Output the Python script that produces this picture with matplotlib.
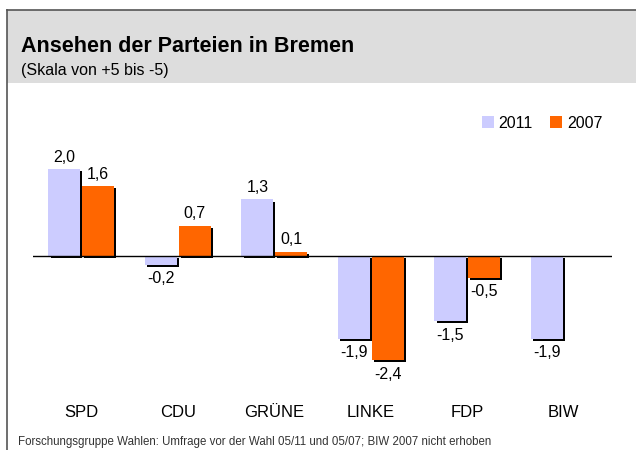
import numpy as np
import matplotlib
matplotlib.use("Agg")
import matplotlib.pyplot as plt
import matplotlib.patheffects as pe
from matplotlib.patches import Rectangle

parteien = ["SPD", "CDU", "GRÜNE", "LINKE", "FDP", "BIW"]
werte_2011 = [2.0, -0.2, 1.3, -1.9, -1.5, -1.9]
werte_2007 = [1.6, 0.7, 0.1, -2.4, -0.5, None]

c2011 = "#ccccff"
c2007 = "#ff6600"

W, H = 636, 450
plt.rcParams['font.family'] = ['Liberation Sans', 'DejaVu Sans']
fig = plt.figure(figsize=(W / 100, H / 100), dpi=100)

def fx(px):
    return px / W

def fy(py):
    return 1 - py / H

# header band and border
fig.patches.append(Rectangle((fx(7), fy(83)), 1 - fx(7), fy(10) - fy(83),
                             transform=fig.transFigure, facecolor="#dddddd",
                             edgecolor="none", zorder=0))
fig.lines.append(plt.Line2D([fx(7), fx(7)], [0, fy(10)], transform=fig.transFigure,
                            color="#555555", lw=1.2))
fig.lines.append(plt.Line2D([fx(7), 1], [fy(10), fy(10)], transform=fig.transFigure,
                            color="#555555", lw=1.2))

fig.text(fx(21), fy(46), "Ansehen der Parteien in Bremen", fontsize=15.5,
         fontweight="bold", va="center", ha="left")
fig.text(fx(21), fy(71), "(Skala von +5 bis -5)", fontsize=11.5, va="center", ha="left")
fig.text(fx(18), fy(448), "Forschungsgruppe Wahlen: Umfrage vor der Wahl 05/11 und 05/07; BIW 2007 nicht erhoben",
         fontsize=8.3, va="bottom", ha="left", color="#333333")

# axes: zero line at y=256 px, 43.5 px per unit
top_px, bot_px, zero_px, scale = 130, 390, 256, 43.5
ax = fig.add_axes([fx(33), fy(bot_px), fx(612) - fx(33), fy(top_px) - fy(bot_px)])
ax.set_xlim(-0.5, 5.5)
ax.set_ylim(-(bot_px - zero_px) / scale, (zero_px - top_px) / scale)
for s in ax.spines.values():
    s.set_visible(False)
ax.set_yticks([])
ax.set_xticks(np.arange(len(parteien)))
ax.set_xticklabels(parteien, fontsize=12)
ax.tick_params(axis="x", length=0, pad=11)

shadow = [pe.SimplePatchShadow(offset=(1.5, -1.5), shadow_rgbFace="black", alpha=1.0),
          pe.Normal()]
bw = 0.33
x = np.arange(len(parteien))

def labels(xs, vals):
    for xi, v in zip(xs, vals):
        if v is None:
            continue
        txt = f"{v:.1f}".replace(".", ",")
        if v >= 0:
            ax.annotate(txt, (xi, v), xytext=(0, 3), textcoords="offset points",
                        ha="center", va="bottom", fontsize=11.5)
        else:
            ax.annotate(txt, (xi, v), xytext=(0, -4.5), textcoords="offset points",
                        ha="center", va="top", fontsize=11.5)

b1 = ax.bar(x - bw / 2 - 0.01, werte_2011, bw, color=c2011, label="2011",
            path_effects=shadow, zorder=2)
v07 = [np.nan if v is None else v for v in werte_2007]
b2 = ax.bar(x + bw / 2 + 0.01, v07, bw, color=c2007, label="2007",
            path_effects=shadow, zorder=2)
labels(x - bw / 2 - 0.01, werte_2011)
labels(x + bw / 2 + 0.01, werte_2007)
ax.axhline(0, color="black", lw=1, zorder=3)

leg = fig.legend(handles=[b1, b2], labels=["2011", "2007"], loc="center",
                 bbox_to_anchor=(fx(542), fy(123)), ncol=2, frameon=False,
                 fontsize=11.5, handlelength=0.75, handleheight=0.75,
                 handletextpad=0.3, columnspacing=1.1)
for h in leg.legend_handles:
    h.set_path_effects([])

fig.savefig("out.png", dpi=100)
